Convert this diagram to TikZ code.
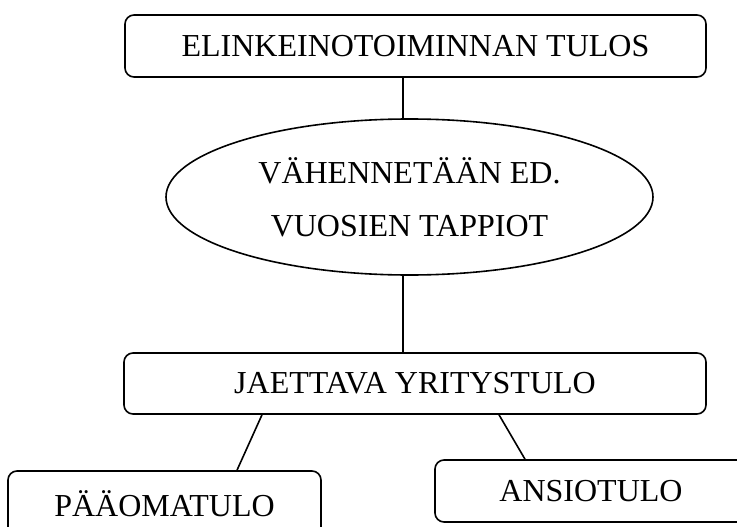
\documentclass[tikz,border=0pt]{standalone}
\usepackage{fontspec}
\setmainfont{Liberation Serif}
\usetikzlibrary{shapes.geometric}
\begin{document}
\begin{tikzpicture}[x=1pt,y=-1pt,
  every node/.style={font=\fontsize{32}{53}\selectfont, inner sep=0pt},
  rbox/.style={draw, line width=1.6pt, rounded corners=9pt, minimum height=62pt},
  oval/.style={draw, line width=1.6pt, ellipse, minimum width=487pt, minimum height=156pt, align=center},
  conn/.style={line width=1.6pt}]
\useasboundingbox (0,0) rectangle (737,527);
\clip (0,0) rectangle (737,527);
\node[rbox, minimum width=581pt] (top) at (415.5,46) {ELINKEINOTOIMINNAN TULOS};
\node[oval] (ell) at (409.5,197) {VÄHENNETÄÄN ED.\\VUOSIEN TAPPIOT};
\node[rbox, minimum width=582pt, minimum height=61pt] (mid) at (415,383.5) {JAETTAVA YRITYSTULO};
\node[rbox, minimum width=313pt, minimum height=70pt] (pao) at (164.5,506) {\raisebox{4pt}{PÄÄOMATULO}};
\node[rbox, minimum width=312pt] (ans) at (591,491) {ANSIOTULO};
\coordinate (ax) at (403,0);
\coordinate (l1) at (262,0);
\coordinate (l2) at (237,0);
\coordinate (r1) at (499,0);
\coordinate (r2) at (525,0);
\draw[conn] (top.south -| ax) -- (ell.north -| ax);
\draw[conn] (ell.south -| ax) -- (mid.north -| ax);
\draw[conn] (mid.south -| l1) -- (pao.north -| l2);
\draw[conn] (mid.south -| r1) -- (ans.north -| r2);
\end{tikzpicture}
\end{document}
